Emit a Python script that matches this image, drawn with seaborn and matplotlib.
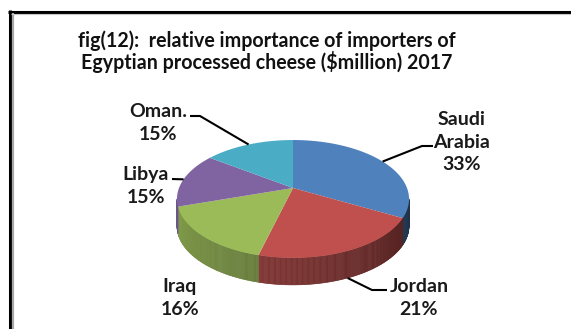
import numpy as np
import matplotlib
matplotlib.use("Agg")
import matplotlib.pyplot as plt
import seaborn as sns
from matplotlib.path import Path
from matplotlib.transforms import Transform
from matplotlib.collections import PolyCollection

# ---- data -------------------------------------------------------------
countries = ["Saudi\nArabia", "Jordan", "Iraq", "Libya", "Oman."]
shares = [33, 21, 16, 15, 15]
slice_colors = ["#4F81BD", "#C0504D", "#9BBB59", "#8064A2", "#4BACC6"]
title_lines = ["fig(12):  relative importance of importers of",
               "Egyptian processed cheese ($million) 2017"]

# ---- styling ----------------------------------------------------------
sns.set_theme(style="white")
plt.rcParams["font.family"] = ["Lato", "DejaVu Sans"]
palette = sns.color_palette(slice_colors)

W, H = 571, 329
fig = plt.figure(figsize=(W / 100, H / 100), dpi=100)
ax = fig.add_axes([0, 0, 1, 1])


class TiltedDisc(Transform):
    """Perspective view of the unit disc lying in a tilted plane."""
    input_dims = 2
    output_dims = 2
    is_separable = False
    has_inverse = False

    def __init__(self, cx, cy, rx, ry, k, drop=0.0):
        super().__init__()
        self.cx, self.cy, self.rx, self.ry, self.k, self.drop = cx, cy, rx, ry, k, drop

    def transform_non_affine(self, values):
        xy = np.atleast_2d(np.asarray(values, dtype=float))
        u, v = xy[:, 0], xy[:, 1]
        d = 1.0 + self.k * v
        return np.column_stack([self.cx + self.rx * u / d,
                                self.cy - self.ry * v / d + self.drop])

    def transform_path_non_affine(self, path):
        pts = []
        for seg, code in path.iter_bezier():
            if seg.degree == 0:
                pts.append(np.atleast_2d(seg.control_points))
            else:
                n = 2 if seg.degree == 1 else 30
                pts.append(seg(np.linspace(0, 1, n)))
        verts = np.vstack(pts)
        verts = np.vstack([verts, verts[:1]])
        return Path(self.transform_non_affine(verts), closed=True)


DEPTH = 27
top = TiltedDisc(293, 188, 114, 56.9, 0.186)
bottom = TiltedDisc(293, 188, 114, 56.9, 0.186, drop=DEPTH)

# ---- top face: a regular pie, viewed through the tilted-disc projection
wedges, _ = ax.pie(shares, colors=palette, startangle=90, counterclock=False,
                   wedgeprops=dict(linewidth=0))
for w in wedges:
    w.set_transform(top + ax.transData)
    w.set_zorder(3)

ax.set_aspect("auto")
ax.set_xlim(0, W)
ax.set_ylim(H, 0)
ax.axis("off")

# ---- visible rim (front side of the cylinder), shaded by direction -----
grid = np.linspace(-270, 90, 3601)
gx = top.transform_non_affine(np.column_stack([np.cos(np.radians(grid)),
                                               np.sin(np.radians(grid))]))[:, 0]
rim_lo, rim_hi = grid[np.argmin(gx)], grid[np.argmax(gx)]

polys, fills = [], []
for w, col in zip(wedges, palette):
    t1, t2 = w.theta1, w.theta2
    a, b = max(t1, rim_lo), min(t2, rim_hi)
    if b <= a:
        continue
    steps = np.linspace(a, b, max(2, int((b - a) * 2) + 1))
    for s0, s1 in zip(steps[:-1], steps[1:]):
        ang = np.radians([s0, s1])
        unit = np.column_stack([np.cos(ang), np.sin(ang)])
        p_top = top.transform_non_affine(unit)
        p_bot = bottom.transform_non_affine(unit)
        polys.append([p_top[0], p_top[1], p_bot[1], p_bot[0]])
        frac = ((s0 + s1) / 2 - rim_lo) / (rim_hi - rim_lo)
        shade = 0.86 - 0.47 * frac
        fills.append(tuple(np.clip(np.array(col) * shade, 0, 1)))

rim = PolyCollection(polys, facecolors=fills, edgecolors=fills,
                     linewidths=0.4, zorder=2)
ax.add_collection(rim)

# ---- labels with leader lines ------------------------------------------
label_pos = [(462, 142), (419, 298), (180, 298), (146, 186), (158, 123)]
leader_ends = [[(422, 146), (433, 146)],
               [(372, 290), (387, 290)],
               None,
               [(172, 179)],
               [(200, 116), (190, 116)]]
for w, name, pct, (lx, ly), path in zip(wedges, countries, shares,
                                        label_pos, leader_ends):
    ax.text(lx, ly, f"{name}\n{pct}%", ha="center", va="center",
            multialignment="center", fontsize=14, fontweight="bold",
            color="#1a1a1a", linespacing=1.36, zorder=5)
    if path is None:
        continue
    mid = np.radians((w.theta1 + w.theta2) / 2)
    unit = np.array([[np.cos(mid), np.sin(mid)]])
    on_front = np.sin(mid) < -0.5
    start = (bottom if on_front else top).transform_non_affine(unit)[0]
    pts = np.vstack([start, np.array(path)])
    ax.plot(pts[:, 0], pts[:, 1], color="black", lw=1.5, zorder=4,
            solid_capstyle="butt")

# ---- title -------------------------------------------------------------
for txt, y in zip(title_lines, (47, 69)):
    ax.text(267, y, txt, ha="center", va="baseline", fontsize=14.1,
            fontweight="bold", color="#111111", parse_math=False, zorder=5)

# ---- frame -------------------------------------------------------------
ax.plot([9.5, 9.5], [10, H], color="black", lw=2.2, solid_capstyle="butt")
ax.plot([8, W], [11.5, 11.5], color="black", lw=2.2, solid_capstyle="butt")
ax.plot([12.5, 12.5], [13, H], color="#a8a8a8", lw=1.6, solid_capstyle="butt")
ax.plot([11, W], [13.8, 13.8], color="#c8c8c8", lw=0.8, solid_capstyle="butt")

fig.savefig("out.png", dpi=100)
